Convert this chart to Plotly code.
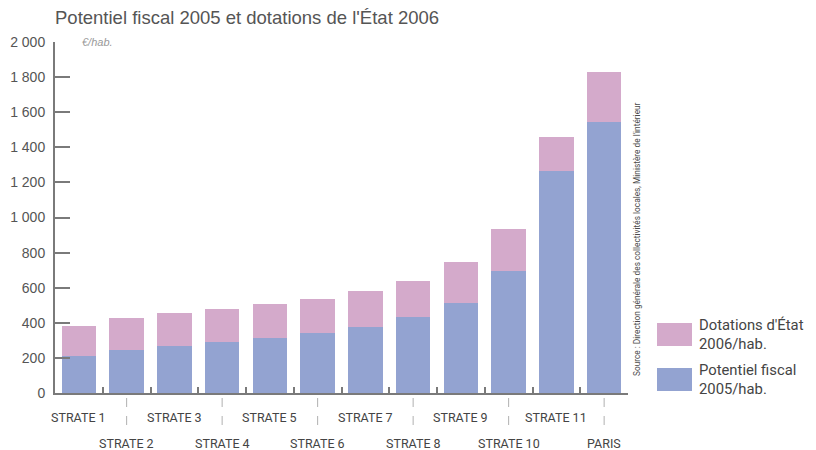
import plotly.graph_objects as go

categories = ["STRATE 1", "STRATE 2", "STRATE 3", "STRATE 4", "STRATE 5", "STRATE 6",
              "STRATE 7", "STRATE 8", "STRATE 9", "STRATE 10", "STRATE 11", "PARIS"]
potentiel_fiscal = [211, 247, 270, 291, 313, 342, 376, 431, 515, 697, 1265, 1546]
dotations_etat = [169, 178, 186, 189, 194, 192, 203, 205, 231, 237, 195, 281]
ytick_vals = [0, 200, 400, 600, 800, 1000, 1200, 1400, 1600, 1800, 2000]
ytick_text = ["0", "200", "400", "600", "800", "1 000", "1 200", "1 400", "1 600", "1 800", "2 000"]
legend_labels = [("Dotations d'État", "2006/hab."), ("Potentiel fiscal", "2005/hab.")]

BLUE = "#93A3D1"
PINK = "#D4AACB"
AXIS = "#7a7a7a"
TXT = "#555555"

# the page body has an 8px margin: the figure div starts at (8, 8)
OFF = 8
W, H = 816 - OFF, 450 - OFF
PX0, PX1, PY0, PY1 = 55, 628, 42, 393  # desired plot area in page pixels
PW, PH = PX1 - PX0, PY1 - PY0


def px(x):
    return (x - PX0) / PW


def py(y):
    return (PY1 - y) / PH


pos = list(range(len(categories)))

fig = go.Figure()
fig.add_trace(go.Bar(x=pos, y=potentiel_fiscal, marker=dict(color=BLUE, line=dict(width=0)),
                     name="Potentiel fiscal 2005/hab.", hovertext=categories))
fig.add_trace(go.Bar(x=pos, y=dotations_etat, marker=dict(color=PINK, line=dict(width=0)),
                     name="Dotations d'État 2006/hab.", hovertext=categories))

annotations = []
shapes = []
for i, c in enumerate(categories):
    odd = (i % 2 == 0)
    annotations.append(dict(x=i, xref="x", y=py(417) if odd else py(443), yref="paper",
                            text=c, showarrow=False, xanchor="center", yanchor="middle",
                            font=dict(family="Roboto", size=12.5, color="#444")))
    if not odd:
        shapes.append(dict(type="line", xref="x", yref="paper", x0=i, x1=i, y0=py(398), y1=py(430),
                           line=dict(color="#b0b0b0", width=1, dash="dash")))

annotations.append(dict(x=px(80), xref="paper", y=1.0, yref="paper", text="<i>€/hab.</i>",
                        showarrow=False, xanchor="left", yanchor="middle",
                        font=dict(family="Liberation Sans", size=11, color="#999")))
annotations.append(dict(x=px(637), xref="paper", y=py(239), yref="paper",
                        text="Source : Direction générale des collectivités locales, Ministère de l'intérieur",
                        textangle=-90, showarrow=False, xanchor="center", yanchor="middle",
                        font=dict(family="Roboto", size=8.3, color="#4a4a4a")))

# legend boxes (paper coords)
boxes = [(PINK, 323, 346), (BLUE, 368, 391)]
for (col, top, bot), (l1, l2) in zip(boxes, legend_labels):
    shapes.append(dict(type="rect", xref="paper", yref="paper", x0=px(657), x1=px(692),
                       y0=py(bot), y1=py(top), fillcolor=col, line=dict(width=0)))
    ym = (top + bot) / 2
    annotations.append(dict(x=px(697), xref="paper", y=py(ym - 9.5), yref="paper", text=l1,
                            showarrow=False, xanchor="left", yanchor="middle",
                            font=dict(family="Roboto", size=14.8, color="#444")))
    annotations.append(dict(x=px(697), xref="paper", y=py(ym + 9.5), yref="paper", text=l2,
                            showarrow=False, xanchor="left", yanchor="middle",
                            font=dict(family="Roboto", size=14.8, color="#444")))

fig.update_layout(
    width=W, height=H,
    margin=dict(l=PX0 - OFF, r=W - (PX1 - OFF), t=PY0 - OFF, b=H - (PY1 - OFF), autoexpand=False),
    paper_bgcolor="white", plot_bgcolor="white",
    barmode="stack", bargap=0.28, showlegend=False,
    title=dict(text="Potentiel fiscal 2005 et dotations de l'État 2006", x=(55 - OFF) / W, xanchor="left",
               y=1 - (18 - OFF) / H, yanchor="middle",
               font=dict(family="Liberation Sans", size=18.5, color=TXT)),
    xaxis=dict(range=[-0.5, len(categories) - 0.5], showgrid=False, zeroline=False,
               showline=True, linecolor=AXIS, linewidth=2, automargin=False,
               tickmode="array", tickvals=[i + 0.5 for i in pos], showticklabels=False,
               ticks="inside", ticklen=6, tickwidth=2, tickcolor=AXIS),
    yaxis=dict(range=[0, 2000], showgrid=False, zeroline=False,
               showline=True, linecolor=AXIS, linewidth=2, automargin=False,
               tickmode="array", tickvals=ytick_vals, ticktext=ytick_text,
               ticks="inside", ticklen=15, tickwidth=2, tickcolor=AXIS,
               ticklabelstandoff=5,
               tickfont=dict(family="Liberation Sans", size=14, color=TXT)),
    annotations=annotations, shapes=shapes,
)

fig.write_html("out.html")
